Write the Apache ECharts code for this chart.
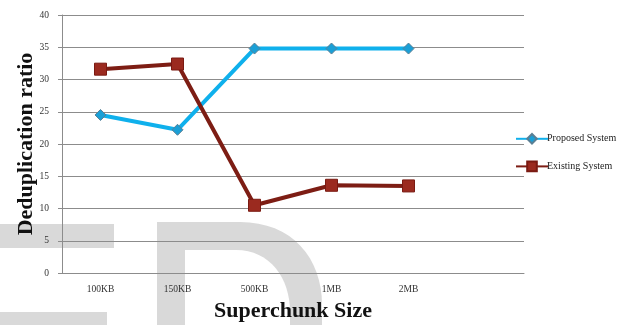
<!DOCTYPE html>
<html><head><meta charset="utf-8">
<script src="https://cdn.jsdelivr.net/npm/echarts@6/dist/echarts.min.js"></script>
<style>html,body{margin:0;padding:0;background:#fff}#c{width:631px;height:325px}</style>
</head><body><div id="c"></div>
<script>
const categories = ['100KB','150KB','500KB','1MB','2MB',''];
const proposed = [24.5, 22.2, 34.8, 34.8, 34.8, null];
const existing = [31.6, 32.4, 10.5, 13.6, 13.5, null];
const yTicks = [0, 40, 5];

const serif = '"Liberation Serif","DejaVu Serif",serif';
const wm = '#d9d9d9';

// decorative watermark shape helper (cubic bezier sampled into polygon points)
function dShape(x0, y0, x1, cx1, cy1, cx2, cy2, xr, yr, yb) {
  const pts = [[x0, y0], [x1, y0]];
  for (let i = 1; i <= 16; i++) {
    const t = i / 16, u = 1 - t;
    pts.push([u*u*u*x1 + 3*u*u*t*cx1 + 3*u*t*t*cx2 + t*t*t*xr,
              u*u*u*y0 + 3*u*u*t*cy1 + 3*u*t*t*cy2 + t*t*t*yr]);
  }
  pts.push([xr, yb], [x0, yb]);
  return pts;
}

const chart = echarts.init(document.getElementById('c'));
chart.setOption({
  animation: false,
  backgroundColor: '#fff',
  graphic: [
    {type:'rect', z:-10, silent:true, shape:{x:0,y:224,width:114,height:24}, style:{fill:wm}},
    {type:'rect', z:-10, silent:true, shape:{x:0,y:312,width:107,height:20}, style:{fill:wm}},
    {type:'polygon', z:-10, silent:true, shape:{points: dShape(157,222,240,292,222,322,258,322,305,330)}, style:{fill:wm}},
    {type:'polygon', z:-9, silent:true, shape:{points: dShape(185,250,236,270,250,290,278,290,312,330)}, style:{fill:'#fff'}}
  ],
  grid: {left: 62, right: 107, top: 15, bottom: 52, containLabel: false, outerBoundsMode: 'none'},
  legend: {
    orient: 'vertical', left: 510, top: 128, itemGap: 16,
    itemWidth: 32, itemHeight: 12,
    textStyle: {fontFamily: serif, fontSize: 10, color: '#222', padding: [0,0,0,-6]},
    data: ['Proposed System', 'Existing System']
  },
  xAxis: {
    type: 'category', data: categories, boundaryGap: true,
    name: 'Superchunk Size', nameLocation: 'middle', nameGap: 27,
    nameMoveOverlap: false,
    nameTextStyle: {fontFamily: serif, fontSize: 22, fontWeight: 'bold', color: '#111'},
    axisLine: {lineStyle: {color: '#8c8c8c', width: 1}},
    axisTick: {show: false},
    axisLabel: {fontFamily: serif, fontSize: 9.5, color: '#333', margin: 11}
  },
  yAxis: {
    type: 'value', min: yTicks[0], max: yTicks[1], interval: yTicks[2],
    name: 'Deduplication ratio', nameLocation: 'middle', nameGap: 25, nameRotate: 90,
    nameMoveOverlap: false,
    nameTextStyle: {fontFamily: serif, fontSize: 22, fontWeight: 'bold', color: '#111'},
    axisLine: {show: true, lineStyle: {color: '#8c8c8c', width: 1}},
    axisTick: {show: true, length: 4, lineStyle: {color: '#8c8c8c'}},
    axisLabel: {fontFamily: serif, fontSize: 9.5, color: '#333', margin: 13},
    splitLine: {lineStyle: {color: '#8c8c8c', width: 1}}
  },
  series: [
    {
      name: 'Proposed System', type: 'line', data: proposed,
      symbol: 'diamond', symbolSize: 11, showAllSymbol: true,
      lineStyle: {color: '#0fb0ec', width: 4},
      itemStyle: {color: '#1a9fd6', borderColor: '#5a7f94', borderWidth: 1}
    },
    {
      name: 'Existing System', type: 'line', data: existing,
      symbol: 'rect', symbolSize: 12, showAllSymbol: true,
      lineStyle: {color: '#7d1d14', width: 4},
      itemStyle: {color: '#9b2a1f', borderColor: '#7a1a12', borderWidth: 1}
    }
  ]
});
</script></body></html>
